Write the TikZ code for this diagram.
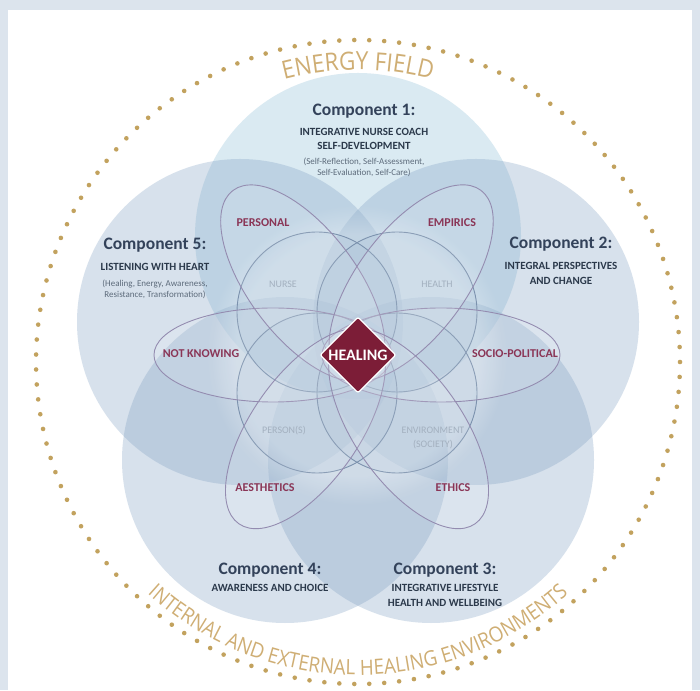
\documentclass[tikz,border=0pt]{standalone}
\usepackage{fontspec}
\setmainfont{Carlito}
\newfontfamily\arcfont[FakeStretch=0.9]{Open Sans}
\usetikzlibrary{shapes.geometric,decorations.text,fadings}
\definecolor{framecol}{HTML}{DCE4ED}
\definecolor{dotgold}{HTML}{C2A25E}
\definecolor{arcgold}{HTML}{CFAE74}
\definecolor{topblue}{HTML}{86BAD6}
\definecolor{compblue}{HTML}{7F9FC2}
\definecolor{innerline}{HTML}{7B91AD}
\definecolor{petalline}{HTML}{948CB0}
\definecolor{petaltext}{HTML}{8A3556}
\definecolor{innertext}{HTML}{A3B0BF}
\definecolor{healred}{HTML}{7C1D37}
\definecolor{headcol}{HTML}{33425A}
\definecolor{capcol}{HTML}{2B394B}
\definecolor{parcol}{HTML}{5D6B7B}
\begin{document}
\begin{tikzpicture}[x=1pt,y=1pt,
  bigcirc/.style={fill=compblue, fill opacity=0.31},
  topcirc/.style={fill=topblue, fill opacity=0.30},
  innercirc/.style={draw=innerline, line width=0.9pt, fill=compblue, fill opacity=0.08},
  petal/.style={draw=petalline, line width=0.9pt, fill=white, fill opacity=0.12},
  comphead/.style={anchor=base, text=headcol, font=\bfseries\fontsize{17.5}{20}\selectfont, inner sep=0pt},
  compcaps/.style={anchor=base, text=capcol, font=\bfseries\fontsize{11}{13}\selectfont, inner sep=0pt},
  comppar/.style={anchor=base, text=parcol, font=\fontsize{9}{11}\selectfont, inner sep=0pt},
  petallabel/.style={anchor=base, text=petaltext, font=\bfseries\fontsize{12}{14}\selectfont, inner sep=0pt},
  innerlabel/.style={anchor=base, text=innertext, font=\fontsize{10}{12}\selectfont, inner sep=0pt},
  healbox/.style={diamond, fill=healred, draw=white, line width=1.2pt, minimum width=76pt, minimum height=76pt, inner sep=0pt, rounded corners=2pt},
  healtext/.style={text=white, font=\bfseries\fontsize{16}{18}\selectfont, inner sep=0pt},
]
\useasboundingbox (0,0) rectangle (700,690);
% frame
\fill[framecol] (0,0) rectangle (700,690);
\fill[white] (8,0) rectangle (692,680);

% dotted energy ring
\coordinate (ring) at (358,328);
\foreach \i in {0,...,134}
  \fill[dotgold] (ring) ++(\i*2.6667:322pt) circle[radius=2.3pt];

% arc texts
\path[decorate, decoration={text along path, text align=center,
  text={|\arcfont\fontsize{25}{25}\selectfont\color{arcgold}|ENERGY FIELD}}]
  (ring) ++(150:292pt) arc[start angle=150, end angle=30, radius=292pt];
\path[decorate, decoration={text along path, text align=center,
  text={|\arcfont\fontsize{21}{21}\selectfont\color{arcgold}|INTERNAL AND EXTERNAL HEALING ENVIRONMENTS}}]
  (ring) ++(200:313pt) arc[start angle=200, end angle=340, radius=313pt];

% component circles
\fill[topcirc] (358,454) circle[radius=163pt];
\fill[bigcirc] (476,368) circle[radius=163pt];
\fill[bigcirc] (431,230) circle[radius=163pt];
\fill[bigcirc] (285,230) circle[radius=163pt];
\fill[bigcirc] (240,368) circle[radius=163pt];
% soften the densely overlapped centre
\coordinate (fc) at (357,335);
\fill[white, fill opacity=0.3, path fading=circle with fuzzy edge 20 percent] (fc) circle[radius=150pt];

% inner circles
\filldraw[innercirc] (317,378) circle[radius=80pt];
\filldraw[innercirc] (397,378) circle[radius=80pt];
\filldraw[innercirc] (317,297) circle[radius=80pt];
\filldraw[innercirc] (397,297) circle[radius=80pt];

% petals
\filldraw[petal] (273,335) ellipse[x radius=119pt, y radius=47pt];
\filldraw[petal] (441,335) ellipse[x radius=119pt, y radius=47pt];
\foreach \a in {127,53,235,305}
  \filldraw[petal, rotate around={\a:(fc)}] (fc) ++(90pt,0) ellipse[x radius=116pt, y radius=54pt];

% healing
\node[healbox] (healing) at (358,335) {};
\node[healtext] (healingtext) at (healing.center) {HEALING};

% petal labels
\node[petallabel] (personal) at (263,463) {PERSONAL};
\node[petallabel] (empirics) at (452,463) {EMPIRICS};
\node[petallabel] (aesthetics) at (265,198) {AESTHETICS};
\node[petallabel] (ethics) at (453,198) {ETHICS};
\node[petallabel] (notknowing) at (201,332) {NOT KNOWING};
\node[petallabel] (sociopol) at (515,332) {SOCIO-POLITICAL};

% inner labels
\node[innerlabel] (nurse) at (283,402) {NURSE};
\node[innerlabel] (health) at (437,402) {HEALTH};
\node[innerlabel] (persons) at (284,256) {PERSON(S)};
\node[innerlabel] (environment) at (433,256) {ENVIRONMENT};
\node[innerlabel] (society) at (433,242) {(SOCIETY)};

% component 1
\node[comphead] (c1a) at (364,574) {Component 1:};
\node[compcaps] (c1b) at (364,554) {INTEGRATIVE NURSE COACH};
\node[compcaps] (c1c) at (364,540) {SELF-DEVELOPMENT};
\node[comppar] (c1d) at (364,525) {(Self-Reflection, Self-Assessment,};
\node[comppar] (c1e) at (364,514) {Self-Evaluation, Self-Care)};
% component 2
\node[comphead] (c2a) at (561,441) {Component 2:};
\node[compcaps] (c2b) at (561,420) {INTEGRAL PERSPECTIVES};
\node[compcaps] (c2c) at (561,405) {AND CHANGE};
% component 5
\node[comphead] (c5a) at (155,440) {Component 5:};
\node[compcaps] (c5b) at (155,419) {LISTENING WITH HEART};
\node[comppar] (c5c) at (155,403) {(Healing, Energy, Awareness,};
\node[comppar] (c5d) at (155,392) {Resistance, Transformation)};
% component 4
\node[comphead] (c4a) at (270,116) {Component 4:};
\node[compcaps] (c4b) at (270,99) {AWARENESS AND CHOICE};
% component 3
\node[comphead] (c3a) at (445,116) {Component 3:};
\node[compcaps] (c3b) at (445,99) {INTEGRATIVE LIFESTYLE};
\node[compcaps] (c3c) at (445,84) {HEALTH AND WELLBEING};
\end{tikzpicture}
\end{document}
